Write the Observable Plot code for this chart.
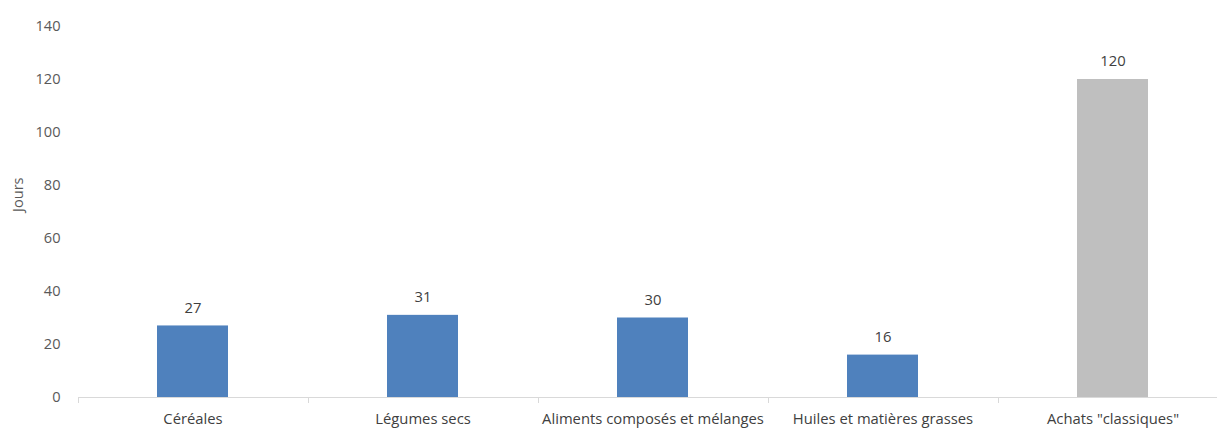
<!DOCTYPE html>
<html>
<head>
<meta charset="utf-8">
<script src="https://cdn.jsdelivr.net/npm/d3@7"></script>
<script src="https://cdn.jsdelivr.net/npm/@observablehq/plot@0.6"></script>
<style>
  html, body { margin: 0; padding: 0; background: #fff; overflow: hidden; }
  #chart svg { display: block; max-width: none !important; }
</style>
</head>
<body>
<div id="chart"></div>
<script>
const categories = ["Céréales", "Légumes secs", "Aliments composés et mélanges", "Huiles et matières grasses", "Achats \"classiques\""];
const values = [27, 31, 30, 16, 120];
const groups = ["bio", "bio", "bio", "bio", "classique"];
const yTicks = [0, 20, 40, 60, 80, 100, 120, 140];

const data = categories.map((c, i) => ({cat: c, value: values[i], group: groups[i]}));

const font = "'Open Sans', sans-serif";

const plot = Plot.plot({
  width: 1228,
  height: 429,
  marginLeft: 78,
  marginRight: 0,
  marginTop: 26,
  marginBottom: 32,
  style: {fontFamily: font, fontSize: "14.6px", color: "#595959", background: "#fff", maxWidth: "none"},
  x: {domain: categories, paddingInner: 0.69, paddingOuter: 0.345, label: null},
  y: {domain: [0, 140], ticks: yTicks, label: null},
  color: {domain: ["bio", "classique"], range: ["#4f81bd", "#bfbfbf"]},
  marks: [
    Plot.axisY({ticks: yTicks, tickSize: 0, tickPadding: 18, label: null, fill: "#595959", fontSize: 14.6}),
    Plot.axisX({tickSize: 0, tickPadding: 16, label: null, fill: "#404040", fontSize: 14.8}),
    Plot.barY(data, {x: "cat", y: "value", fill: "group"}),
    Plot.ruleY([0], {stroke: "#d9d9d9", strokeWidth: 1}),
    Plot.text(data, {x: "cat", y: "value", text: d => String(d.value), dy: -18, fill: "#404040", fontSize: 14.8}),
    Plot.text(["Jours"], {frameAnchor: "left", dx: -60, rotate: -90, text: d => d, fill: "#595959", fontSize: 14.6})
  ]
});

// category separators on the x axis, at band boundaries from the library's x scale
const xs = plot.scale("x");
const ys = plot.scale("y");
const y0 = ys.apply(0);
const half = xs.step / 2;
const bounds = [xs.apply(categories[0]) + xs.bandwidth / 2 - half, ...categories.map(c => xs.apply(c) + xs.bandwidth / 2 + half)];
const svg = d3.select(plot);
svg.append("g")
  .selectAll("line")
  .data(bounds)
  .join("line")
  .attr("x1", d => Math.round(d) + 0.5)
  .attr("x2", d => Math.round(d) + 0.5)
  .attr("y1", y0)
  .attr("y2", y0 + 6)
  .attr("stroke", "#d9d9d9");

document.getElementById("chart").appendChild(plot);
</script>
</body>
</html>
